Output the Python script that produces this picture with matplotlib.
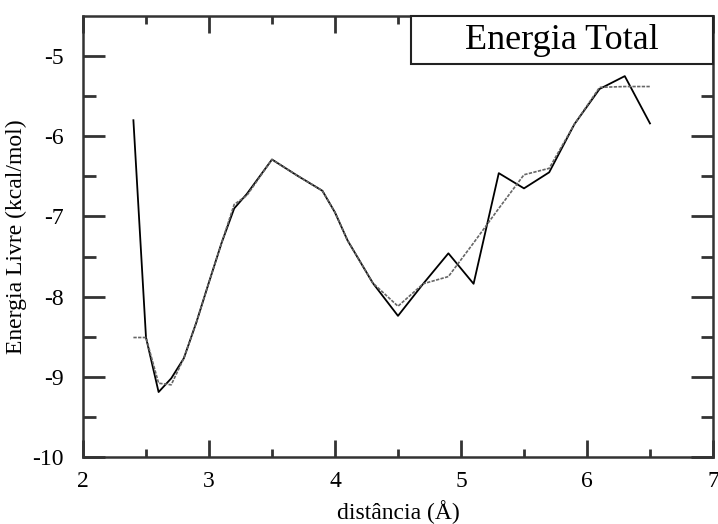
import matplotlib.pyplot as plt
from matplotlib.patches import Rectangle

plt.rcParams['font.family'] = ['Liberation Serif', 'DejaVu Serif']

# distancias (A)
dist = [2.4, 2.5, 2.6, 2.7, 2.8, 2.9, 3.0, 3.1, 3.2, 3.3, 3.5, 3.7, 3.9, 4.0,
        4.1, 4.3, 4.5, 4.7, 4.9, 5.1, 5.3, 5.5, 5.7, 5.9, 6.1, 6.3, 6.5]

# energia livre calculada (linha cheia)
energia = [-5.80, -8.51, -9.19, -9.02, -8.77, -8.32, -7.82, -7.33, -6.90, -6.72,
           -6.29, -6.49, -6.68, -6.95, -7.30, -7.83, -8.24, -7.84, -7.46, -7.84,
           -6.46, -6.65, -6.45, -5.85, -5.41, -5.25, -5.84]

# curva suavizada (linha tracejada)
energia_suave = [-8.51, -8.51, -9.08, -9.10, -8.77, -8.32, -7.82, -7.33, -6.85, -6.74,
                 -6.29, -6.49, -6.68, -6.95, -7.30, -7.83, -8.12, -7.84, -7.75, -7.33,
                 -6.90, -6.48, -6.40, -5.85, -5.39, -5.38, -5.38]

xticks = [2, 3, 4, 5, 6, 7]
yticks = [-10, -9, -8, -7, -6, -5]

fig = plt.figure(figsize=(7.18, 5.24), dpi=100)
ax = fig.add_axes([0.1156, 0.1279, 0.8774, 0.8416])

ax.plot(dist, energia, color='black', linewidth=1.3)
ax.plot(dist, energia_suave, color='#666666', linewidth=1.2, linestyle=(0, (2, 0.8)))

ax.set_xlim(2, 7)
ax.set_ylim(-10, -4.5)
ax.set_xticks(xticks)
ax.set_xticklabels([str(v) for v in xticks])
ax.set_yticks(yticks)
ax.set_yticklabels([str(v) for v in yticks])
ax.set_xticks([2.5, 3.5, 4.5, 5.5, 6.5], minor=True)
ax.set_yticks([-9.5, -8.5, -7.5, -6.5, -5.5], minor=True)

for s in ax.spines.values():
    s.set_linewidth(1.8)
    s.set_color('#333333')

ax.tick_params(axis='x', which='major', direction='in', length=12, width=2,
               top=True, labelsize=17, pad=10, color='#333333')
ax.tick_params(axis='x', which='minor', direction='in', length=6, width=2,
               top=True, color='#333333')
ax.tick_params(axis='y', which='major', direction='in', length=16, width=2,
               right=True, labelsize=17, pad=14, color='#333333')
ax.tick_params(axis='y', which='minor', direction='in', length=9, width=2,
               right=True, color='#333333')

ax.set_xlabel('distância (Å)', fontsize=17, labelpad=6)
ax.set_ylabel('Energia Livre (kcal/mol)', fontsize=17, labelpad=4)

# caixa do titulo
ax.add_patch(Rectangle((0.52, 0.891), 0.48, 0.109, transform=ax.transAxes,
                       facecolor='white', edgecolor='#222222', linewidth=1.5,
                       zorder=5, clip_on=False))
ax.text(0.76, 0.945, 'Energia Total', transform=ax.transAxes, fontsize=26,
        ha='center', va='center', zorder=6)

plt.savefig('out.png', dpi=100)
